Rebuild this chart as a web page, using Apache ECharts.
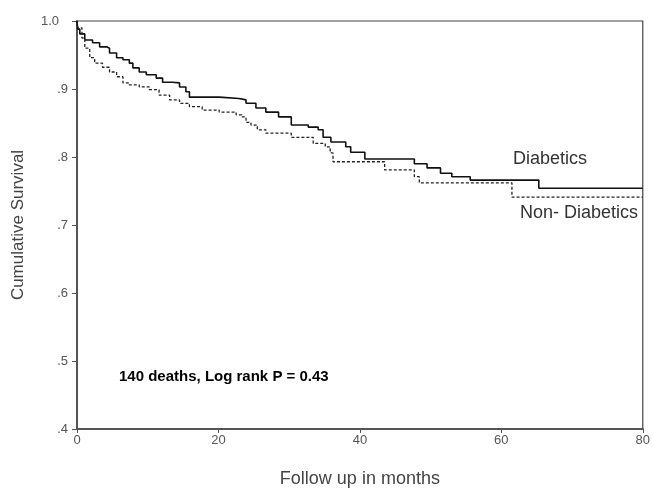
<!DOCTYPE html>
<html><head><meta charset="utf-8">
<script src="https://cdn.jsdelivr.net/npm/echarts@6/dist/echarts.min.js"></script>
<style>html,body{margin:0;padding:0;background:#fff}#c{width:653px;height:497px}</style>
</head><body><div id="c"></div>
<script>
// Kaplan-Meier steps: [month, cumulative survival]
const diabeticsMonths = [0,0.1,0.4,1.1,2.2,3.2,4.2,4.6,5.6,6.5,7.4,7.9,8.8,9.8,11.2,12.1,13.5,14.5,15.4,15.9,20.1,22.9,23.9,25.3,26.7,28.5,30.3,32.7,34.1,34.8,35.9,38.0,38.7,40.7,47.7,49.5,51.4,53.0,55.6,65.3,80];
const diabeticsSurv   = [1.0,0.988,0.981,0.972,0.968,0.962,0.960,0.953,0.946,0.943,0.938,0.931,0.925,0.921,0.916,0.910,0.909,0.903,0.896,0.888,0.886,0.884,0.879,0.872,0.866,0.859,0.847,0.844,0.840,0.829,0.822,0.815,0.807,0.797,0.790,0.784,0.776,0.771,0.766,0.754,0.754];
const nonDiabeticsMonths = [0,0.1,0.7,1.1,1.8,2.5,3.6,4.6,5.6,6.5,7.4,8.8,10.2,11.6,13.1,14.5,15.9,17.7,20.1,22.5,23.3,23.9,24.6,25.5,26.7,30.3,33.4,35.1,35.8,36.2,43.5,47.7,48.4,61.5,80];
const nonDiabeticsSurv   = [1.0,0.990,0.975,0.960,0.946,0.938,0.932,0.925,0.918,0.909,0.906,0.903,0.899,0.891,0.884,0.879,0.874,0.869,0.866,0.862,0.859,0.851,0.847,0.840,0.835,0.829,0.820,0.815,0.806,0.793,0.781,0.771,0.762,0.741,0.740];
const yTicks = [0.4,0.5,0.6,0.7,0.8,0.9,1.0];
const xTicks = [0,20,40,60,80];
const labelDiabetics = 'Diabetics';
const labelNonDiabetics = 'Non- Diabetics';
const annotation = '140 deaths, Log rank P = 0.43';

const zip = (a,b)=>a.map((v,i)=>[v,b[i]]);
const chart = echarts.init(document.getElementById('c'));
const axisCol = '#555';
const font = 'Liberation Sans, Arial, sans-serif';
chart.setOption({
  animation:false,
  backgroundColor:'#fff',
  grid:{left:77,right:6,top:21,bottom:68,show:true,borderColor:'#444',borderWidth:1.2},
  xAxis:{type:'value',min:xTicks[0],max:xTicks[xTicks.length-1],interval:20,
    name:'Follow up in months',nameLocation:'middle',nameGap:41,
    nameTextStyle:{color:'#444',fontSize:18,fontFamily:font},
    axisLine:{lineStyle:{color:'#555',width:2}},
    axisTick:{show:true,length:4,lineStyle:{color:'#555'}},
    axisLabel:{color:axisCol,fontSize:13,fontFamily:font,margin:5},
    splitLine:{show:false}},
  yAxis:{type:'value',min:yTicks[0],max:yTicks[yTicks.length-1],interval:0.1,
    name:'Cumulative Survival',nameLocation:'middle',nameGap:50,
    nameTextStyle:{color:'#444',fontSize:17,fontFamily:font},
    axisLine:{show:true,lineStyle:{color:'#555',width:2}},
    axisTick:{show:true,length:5,lineStyle:{color:'#555'}},
    axisLabel:{color:axisCol,fontSize:13,fontFamily:font,margin:9,
      formatter:v=>{const s=(Math.round(v*10)/10).toFixed(1);return s==='1.0'?'{one|1.0}':s.replace(/^0/,'');},
      rich:{one:{color:axisCol,fontSize:13,fontFamily:font,padding:[0,9,0,0]}}},
    splitLine:{show:false}},
  series:[
    {name:labelDiabetics,type:'line',step:'end',showSymbol:false,
     data:zip(diabeticsMonths,diabeticsSurv),
     lineStyle:{color:'#111',width:1.6}},
    {name:labelNonDiabetics,type:'line',step:'end',showSymbol:false,
     data:zip(nonDiabeticsMonths,nonDiabeticsSurv),
     lineStyle:{color:'#222',width:1.3,type:[3,2]}}
  ],
  graphic:[
    {type:'text',left:513,top:150,style:{text:labelDiabetics,fill:'#333',font:'18px '+font}},
    {type:'text',left:520,top:204,style:{text:labelNonDiabetics,fill:'#333',font:'18px '+font}},
    {type:'text',left:119,top:369,style:{text:annotation,fill:'#000',font:'bold 15px '+font}}
  ]
});
</script></body></html>
